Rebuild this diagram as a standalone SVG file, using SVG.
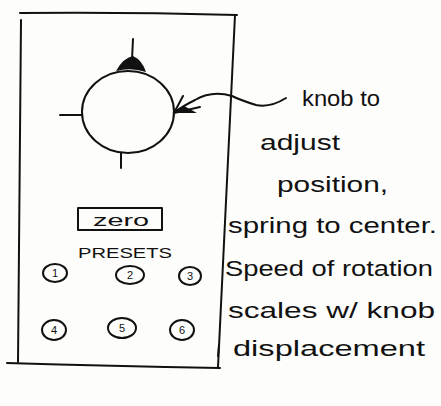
<svg xmlns="http://www.w3.org/2000/svg" width="441" height="406" viewBox="0 0 441 406">
<style>
.ink{fill:none;stroke:#111;stroke-width:2;stroke-linecap:round;stroke-linejoin:round}
.hand{font-family:"Liberation Sans","DejaVu Sans",sans-serif;fill:#111}
.note{font-size:22px}
.num{font-size:11px;text-anchor:middle}
</style>
<rect width="441" height="406" fill="#fdfdfb"/>
<g id="frame">
<path class="ink" d="M20 13 Q130 12 237 15"/>
<path class="ink" d="M21 20 Q19 190 18 362"/>
<path class="ink" d="M235 15 Q226 190 218 367"/>
<path class="ink" d="M7 363 Q110 366 220 368"/>
<path class="ink" d="M219 345 L218 356"/>
</g>
<g id="knob">
<ellipse class="ink" cx="128" cy="112" rx="46" ry="41"/>
<path class="ink" d="M133 39 L132 60"/>
<path d="M116 71 Q123 58 133 56 Q142 60 146 72 Q131 67 116 71 Z" fill="#111"/>
<path class="ink" d="M60 115 L82 115"/>
<path class="ink" d="M121 153 L121 168"/>
</g>
<g id="zero">
<rect class="ink" x="78" y="208" width="84" height="22"/>
<text class="hand" x="121" y="226" font-size="17" text-anchor="middle" textLength="56" lengthAdjust="spacingAndGlyphs">zero</text>
</g>
<g id="presets">
<text class="hand" x="125" y="258" font-size="15" text-anchor="middle" textLength="94" lengthAdjust="spacingAndGlyphs">PRESETS</text>
</g>
<g id="preset1"><ellipse class="ink" cx="55" cy="273" rx="12" ry="9"/><text class="hand num" x="55" y="277">1</text></g>
<g id="preset2"><ellipse class="ink" cx="130" cy="275" rx="14" ry="9"/><text class="hand num" x="130" y="279">2</text></g>
<g id="preset3"><ellipse class="ink" cx="190" cy="276" rx="11" ry="9"/><text class="hand num" x="190" y="280">3</text></g>
<g id="preset4"><ellipse class="ink" cx="54" cy="330" rx="12" ry="10"/><text class="hand num" x="54" y="334">4</text></g>
<g id="preset5"><ellipse class="ink" cx="122" cy="328" rx="14" ry="10"/><text class="hand num" x="122" y="332">5</text></g>
<g id="preset6"><ellipse class="ink" cx="182" cy="330" rx="12" ry="10"/><text class="hand num" x="182" y="334">6</text></g>
<g id="note">
<text class="hand note" x="302" y="106" textLength="78" lengthAdjust="spacingAndGlyphs">knob to</text>
<text class="hand note" x="260" y="150" textLength="80" lengthAdjust="spacingAndGlyphs">adjust</text>
<text class="hand note" x="277" y="192" textLength="111" lengthAdjust="spacingAndGlyphs">position,</text>
<text class="hand note" x="228" y="233" textLength="209" lengthAdjust="spacingAndGlyphs">spring to center.</text>
<text class="hand note" x="225" y="276" textLength="208" lengthAdjust="spacingAndGlyphs">Speed of rotation</text>
<text class="hand note" x="228" y="318" textLength="207" lengthAdjust="spacingAndGlyphs">scales w/ knob</text>
<text class="hand note" x="233" y="356" textLength="192" lengthAdjust="spacingAndGlyphs">displacement</text>
</g>
<g id="connectors">
<path class="ink" d="M286 98 Q270 108 256 105 Q240 100 232 96 Q212 90 195 100 Q183 106 175 112"/>
<path class="ink" d="M174 113 L183 96"/>
<path class="ink" d="M174 113 L200 107"/>
<path d="M172 113 L184 106 L197 113 Z" fill="#111"/>
</g>
</svg>
